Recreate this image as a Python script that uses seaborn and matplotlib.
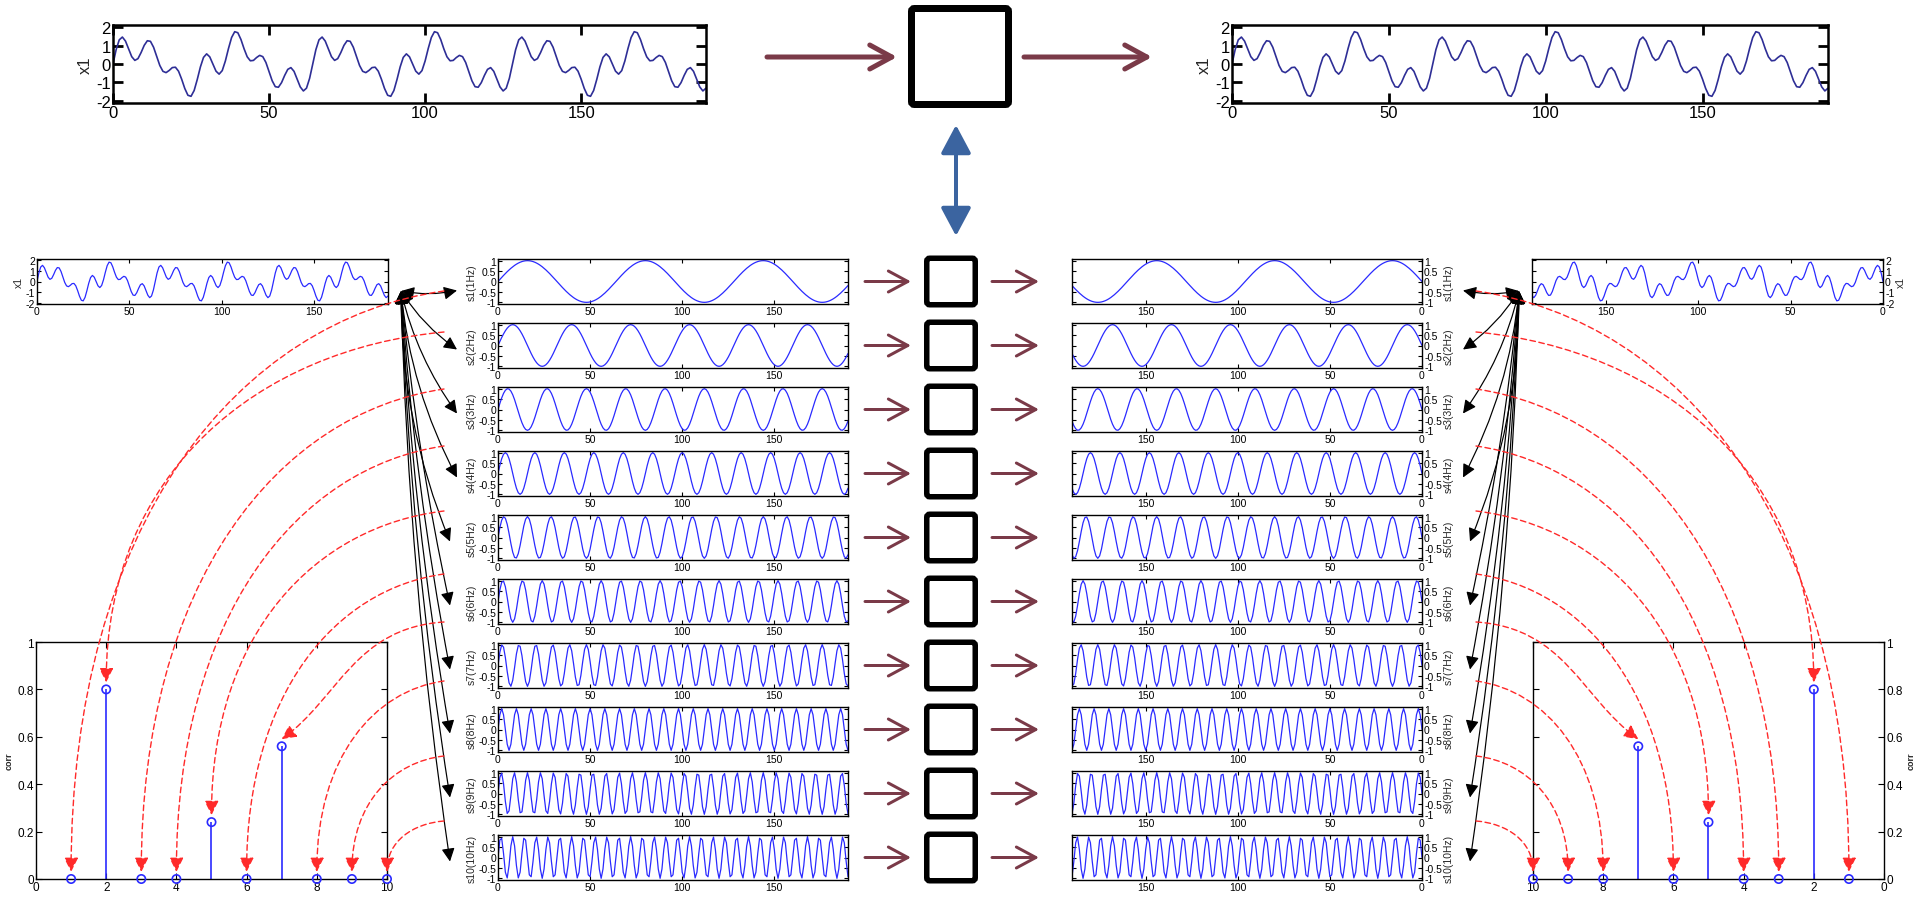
import numpy as np
import pandas as pd
import matplotlib
matplotlib.use("Agg")
import matplotlib.pyplot as plt
import seaborn as sns
from matplotlib.patches import FancyArrowPatch, FancyBboxPatch
from matplotlib.path import Path

# ---------------- datos ----------------
freqs = [1, 2, 3, 4, 5, 6, 7, 8, 9, 10]
corr = [0, 0.8, 0, 0, 0.24, 0, 0.56, 0, 0, 0]
x1_weights = [0, 1.0, 0, 0, 0.3, 0, 0.7, 0, 0, 0]
period = 64          # muestras por ciclo de 1Hz
n_samples = 191
t_ticks = [0, 50, 100, 150]
s_yticks = [-1, -0.5, 0, 0.5, 1]
s_ylabels = ['-1', '-0.5', '0', '0.5', '1']
x1_yticks = [-2, -1, 0, 1, 2]
x1_ylabels = ['-2', '-1', '0', '1', '2']
corr_xticks = [0, 2, 4, 6, 8, 10]
corr_yticks = [0, 0.2, 0.4, 0.6, 0.8, 1]
corr_ylabels = ['0', '0.2', '0.4', '0.6', '0.8', '1']
s_names = [f's{f}({f}Hz)' for f in freqs]

t = np.arange(n_samples)
waves = pd.DataFrame({'t': t})
for f in freqs:
    waves[f's{f}'] = np.sin(2 * np.pi * f * t / period)
waves['x1'] = sum(w * waves[f's{f}'] for f, w in zip(freqs, x1_weights))
df_corr = pd.DataFrame({'k': freqs, 'corr': corr})

# ---------------- figura ----------------
sns.set_style('ticks')
plt.rcParams['font.family'] = ['Liberation Sans', 'DejaVu Sans']
W, H = 1915, 903
fig = plt.figure(figsize=(W / 100, H / 100), dpi=100)
fig.patch.set_facecolor('white')

MAROON = '#7a3a48'
BLUE = '#2a2aff'
PT = 72 / 100  # px -> pt


def make_ax(x0, y0, x1, y1):
    return fig.add_axes([x0 / W, 1 - y1 / H, (x1 - x0) / W, (y1 - y0) / H])


def style(ax, fs, tl, tw, flw, mirror=False):
    for sp in ax.spines.values():
        sp.set_linewidth(flw)
        sp.set_color('black')
    ax.tick_params(direction='in', length=tl, width=tw, top=True, right=True,
                   labelsize=fs, pad=1.5, colors='black')
    ax.set_xlabel('')
    if mirror:
        ax.invert_xaxis()
        ax.tick_params(labelleft=False, labelright=True)
        ax.yaxis.set_label_position('right')


# ---- x1 grandes de arriba ----
for box in [(113, 26, 706, 104), (1232, 26, 1828, 104)]:
    ax = make_ax(*box)
    sns.lineplot(data=waves, x='t', y='x1', ax=ax, color='#2e2e96', linewidth=1.2)
    ax.set_xlim(0, 190)
    ax.set_ylim(-2.13, 2.13)
    ax.set_xticks(t_ticks)
    ax.set_yticks(x1_yticks)
    ax.set_yticklabels(x1_ylabels)
    style(ax, 12, 7, 2, 1.8)
    ax.set_ylabel('x1', fontsize=12, labelpad=2)

# ---- x1 pequeños (izq y espejo der) ----
for mirror in [False, True]:
    x0, x1_ = (37, 388) if not mirror else (1920 - 388, 1920 - 37)
    ax = make_ax(x0, 260, x1_, 305)
    sns.lineplot(data=waves, x='t', y='x1', ax=ax, color=BLUE, linewidth=0.9)
    ax.set_xlim(0, 190)
    ax.set_ylim(-2.05, 2.05)
    ax.set_xticks(t_ticks)
    ax.set_yticks(x1_yticks)
    ax.set_yticklabels(x1_ylabels)
    style(ax, 7.5, 3, 0.8, 1.0, mirror)
    ax.set_ylabel('x1', fontsize=7.5, labelpad=1)

# ---- columnas de senos ----
row_tops = [260 + 64 * i for i in range(10)]
row_h = 45
for mirror in [False, True]:
    x0, x1_ = (498, 848) if not mirror else (1920 - 848, 1920 - 498)
    for i, f in enumerate(freqs):
        ax = make_ax(x0, row_tops[i], x1_, row_tops[i] + row_h)
        sns.lineplot(data=waves, x='t', y=f's{f}', ax=ax, color=BLUE, linewidth=0.9)
        ax.set_xlim(0, 190)
        ax.set_ylim(-1.08, 1.08)
        ax.set_xticks(t_ticks)
        ax.set_yticks(s_yticks)
        ax.set_yticklabels(s_ylabels)
        style(ax, 7.5, 3, 0.8, 1.0, mirror)
        ax.set_ylabel(s_names[i], fontsize=7.5, labelpad=1)

# ---- stem de correlación ----
stem_axes = []
for mirror in [False, True]:
    x0, x1_ = (36, 387) if not mirror else (1920 - 387, 1920 - 36)
    ax = make_ax(x0, 643, x1_, 880)
    ax.vlines(df_corr['k'], 0, df_corr['corr'], color=BLUE, linewidth=1.2)
    sns.scatterplot(data=df_corr, x='k', y='corr', ax=ax, marker='o', s=36,
                    fc='none', ec=BLUE, linewidth=1.2, zorder=3, clip_on=False)
    ax.set_xlim(0, 10)
    ax.set_ylim(0, 1)
    ax.set_xticks(corr_xticks)
    ax.set_yticks(corr_yticks)
    ax.set_yticklabels(corr_ylabels)
    style(ax, 8.5, 4, 0.8, 1.0, mirror)
    ax.set_ylabel('corr', fontsize=6.5, fontweight='bold', labelpad=3)
    stem_axes.append(ax)

# ---------------- capa de diagrama ----------------
ov = fig.add_axes([0, 0, 1, 1], zorder=10)
ov.set_xlim(0, W)
ov.set_ylim(H, 0)
ov.axis('off')
ov.patch.set_alpha(0)


def box(cx, cy, w, h, lw_px):
    ov.add_patch(FancyBboxPatch((cx - w / 2 + lw_px / 2, cy - h / 2 + lw_px / 2),
                                w - lw_px, h - lw_px,
                                boxstyle='round,pad=0,rounding_size=3',
                                fc='white', ec='black', lw=lw_px * PT))


def arrow(p0, p1, style_, color, lw_px, ms_px, **kw):
    ov.add_patch(FancyArrowPatch(p0, p1, arrowstyle=style_, color=color, lw=lw_px * PT,
                                 mutation_scale=ms_px * PT, shrinkA=0, shrinkB=0,
                                 capstyle='round', joinstyle='round', **kw))


# bloque superior
box(960, 57.5, 104, 103, 7)
arrow((767, 58), (897, 58), '->,head_length=0.55,head_width=0.3', MAROON, 5, 40)
arrow((1024, 58), (1152, 58), '->,head_length=0.55,head_width=0.3', MAROON, 5, 40)
arrow((956, 126), (956, 237), '<|-|>,head_length=0.6,head_width=0.32', '#3b64a0', 4, 40)

# bloques pequeños
for i in range(10):
    cy = row_tops[i] + row_h / 2
    box(951, cy, 54, 52, 5.5)
    arrow((865, cy), (911, cy), '->,head_length=0.65,head_width=0.35', MAROON, 3, 30)
    arrow((992, cy), (1039, cy), '->,head_length=0.65,head_width=0.35', MAROON, 3, 30)

# flechas negras y curvas rojas
red_start_y = [292, 333, 390, 447, 512, 575, 623, 682, 757, 822]
origin_left = (401, 292)
for side in [0, 1]:
    mx = (lambda x: x) if side == 0 else (lambda x: 1920 - x)
    for i in range(10):
        cy = row_tops[i] + row_h / 2
        tip_x = 457 if i < 4 else 450
        tip_y = cy + (9 if i == 0 else 4)
        bend = 0.1 if i < 5 else 0.03
        rad = bend if side == 0 else -bend
        arrow((mx(origin_left[0]), origin_left[1]), (mx(tip_x), tip_y),
              '<|-|>,head_length=0.5,head_width=0.25', 'black', 1.2, 22,
              connectionstyle=f'arc3,rad={rad}')

    sax = stem_axes[side]
    for i, k in enumerate(freqs):
        end_disp = sax.transData.transform((k, corr[i] + 0.03))
        ex, ey = ov.transData.inverted().transform(end_disp)
        sx, sy = mx(444), red_start_y[i]
        dx = sx - ex
        dy = ey - sy
        p1 = (sx - 0.55 * dx, sy + 0.05 * dy)
        if k == 7:
            p2 = (ex + 0.35 * dx, ey - 0.35 * dy)
        else:
            p2 = (ex, ey - 0.6 * dy)
        path = Path([(sx, sy), p1, p2, (ex, ey)],
                    [Path.MOVETO, Path.CURVE4, Path.CURVE4, Path.CURVE4])
        ov.add_patch(FancyArrowPatch(path=path,
                                     arrowstyle='-|>,head_length=0.6,head_width=0.3',
                                     mutation_scale=20 * PT, color='#ff2a2a', lw=1.4 * PT,
                                     linestyle=(0, (4, 2.5))))

fig.savefig('out.png', dpi=100, facecolor='white')
